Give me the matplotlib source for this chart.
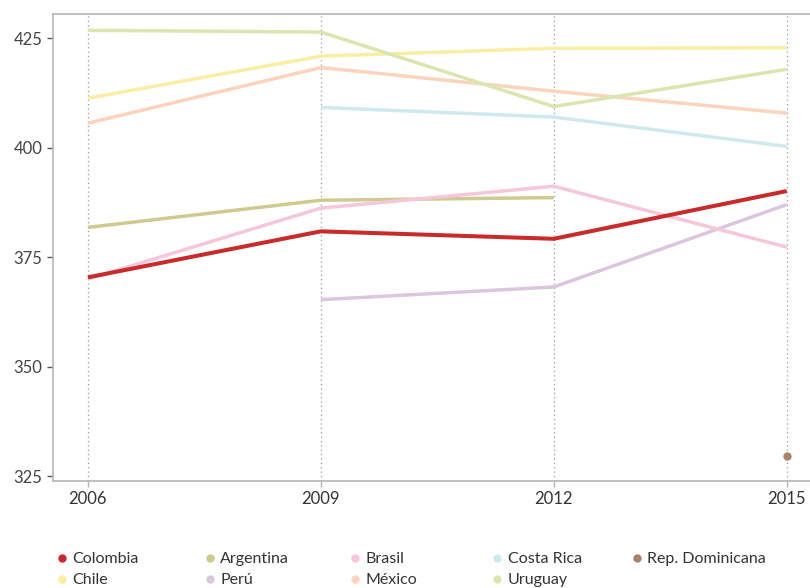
import matplotlib
matplotlib.use('Agg')
import matplotlib.pyplot as plt
from matplotlib.lines import Line2D

years = [2006, 2009, 2012, 2015]

colombia = [370.4, 380.9, 379.2, 390.1]
argentina = [381.8, 388.0, 388.6, None]
brasil = [370.0, 386.2, 391.2, 377.3]
costa_rica = [None, 409.2, 407.0, 400.3]
rep_dominicana = [None, None, None, 329.6]
chile = [411.3, 420.9, 422.7, 422.8]
peru = [None, 365.3, 368.2, 387.0]
mexico = [405.6, 418.3, 412.9, 407.9]
uruguay = [426.8, 426.4, 409.4, 417.9]

# legend columns, top row then bottom row
columns = [
    [('Colombia', colombia, '#c92a2a'), ('Chile', chile, '#f9eea3')],
    [('Argentina', argentina, '#cfca90'), ('Perú', peru, '#dcc6df')],
    [('Brasil', brasil, '#f6c6da'), ('México', mexico, '#fcd3bd')],
    [('Costa Rica', costa_rica, '#cfe9ef'), ('Uruguay', uruguay, '#dbe6ae')],
    [('Rep. Dominicana', rep_dominicana, '#a8826a')],
]
col_x = [0.071, 0.253, 0.432, 0.608, 0.780]

plt.rcParams['font.family'] = ['Lato', 'DejaVu Sans']

fig = plt.figure(figsize=(8.1, 5.88), dpi=100)
ax = fig.add_axes([0.0654, 0.182, 0.9346, 0.794])

series = [s for c in columns for s in c]
for name, vals, col in series:
    xs = [y for y, v in zip(years, vals) if v is not None]
    vs = [v for v in vals if v is not None]
    if name == 'Colombia':
        ax.plot(xs, vs, color=col, lw=2.9, zorder=5, solid_capstyle='butt')
    elif len(vs) == 1:
        ax.plot(xs, vs, 'o', color=col, ms=5, zorder=4)
    else:
        ax.plot(xs, vs, color=col, lw=2.5, zorder=3, solid_capstyle='butt')

ax.set_xlim(2005.55, 2015.3)
ax.set_ylim(323.9, 430.5)
ax.set_xticks(years)
ax.set_yticks([325, 350, 375, 400, 425])
for y in years:
    ax.axvline(y, color='#999999', lw=0.9, ls=(0, (1, 2.5)), zorder=1)

for s in ['left', 'bottom', 'top']:
    ax.spines[s].set_color('#b5b5b5')
    ax.spines[s].set_linewidth(1.2)
ax.spines['right'].set_visible(False)
ax.tick_params(labelsize=12, length=4, width=1)
ax.tick_params(axis='x', colors='#b5b5b5', labelcolor='#333333')
ax.tick_params(axis='y', colors='#555555', labelcolor='#444444')

for x0, entries in zip(col_x, columns):
    handles = [Line2D([], [], ls='', marker='o', ms=5, color=c) for _, _, c in entries]
    labels = [n for n, _, _ in entries]
    fig.legend(handles, labels, loc='upper left', bbox_to_anchor=(x0, 0.061),
               frameon=False, fontsize=11.5, handletextpad=0.35, borderpad=0,
               borderaxespad=0, labelspacing=0.42, handlelength=0.6,
               labelcolor='#333333')

fig.savefig('out.png', dpi=100)
